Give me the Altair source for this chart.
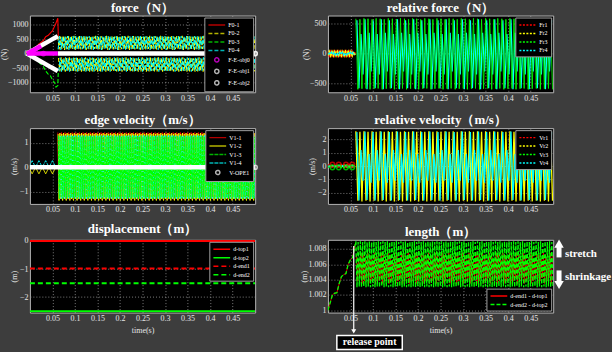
import altair as alt
import pandas as pd

FONT = "Liberation Serif"
BG = "#3d3d3d"
RED, YEL, GRN, CYN, MAG, WHT = "#ff0000", "#ffff00", "#00ff00", "#00ffff", "#ff00ff", "#ffffff"
LINE_SYM = "M -2.4,0 L 2.4,0"
CIRCLE = "M -0.6,0 A 0.6,0.6 0 1,0 0.6,0 A 0.6,0.6 0 1,0 -0.6,0 Z"
SOLID, DASH, DOT = [1, 0], [4, 2], [2, 1.5]

T_REL = 0.062
T_END = 0.5
X_TICKS = [0.05, 0.1, 0.15, 0.2, 0.25, 0.3, 0.35, 0.4, 0.45]

# ---------------- force (N) ----------------
f01_t = [0.010, 0.020, 0.030, 0.035, 0.040, 0.045, 0.050, 0.055, 0.058, 0.062, 0.063]
f01_v = [150, 330, 450, 580, 620, 700, 780, 950, 1050, 1220, 600]
f03_v = [-150, -300, -450, -600, -700, -750, -900, -1000, -1150, -1100, -600]
f02_up = [600, 140, 590, 160, 610, 130, 580, 150]
f02_lo = [-150, -610, -130, -600, -160, -620]
f04_up = [150, 600, 130, 590, 170, 605]
f04_lo = [-600, -140, -620, -160, -590, -130]
obj_t = [-0.0066, 0.062]
obj1_v = [0, 600]
obj2_v = [0, -600]
obj0_a_v = [0, 0]
obj0_b_t = [-0.0066, 0.025]
obj0_b_v = [0, 260]
obj_line_t = [0.062, 0.5]
obj_line_v = [0, 0]

# ---------------- relative force (N) ----------------
fr1_early = [28, -28]
fr2_early = [-28, 28]
fr4_early = [15, -15]
fr3_dense = [585, -600, 575, -590, 590, -585]
fr4_dense = [560, -580, 330, -350, 575, -600, 350, -300]

# ---------------- edge velocity (m/s) ----------------
v14_early = [0.0, 0.27]
v12_early = [0.0, -0.27]
v11_dense = [1.42, -1.33, 1.38, -1.28]
v12_dense = [1.36, -1.36, 1.40, -1.30]
v13_dense = [1.30, -1.30, 1.25, -1.22]
v14_dense = [1.28, -1.25, 1.30, -1.28]
vope_t = [0.0, 0.5]
vope_v = [0.0, 0.0]

# ---------------- relative velocity (m/s) ----------------
vr1_early = [0.08, 0.02]
vr3_early = [-0.08, -0.02]
vr4_early = [0.02, -0.02]
vr_mark_t = [0.010, 0.024, 0.040, 0.054]
vr_mark_up = [0.1, 0.1, 0.1, 0.1]
vr_mark_dn = [-0.1, -0.1, -0.1, -0.1]
vr2_dense = [2.62, -2.62, 2.58, -2.66]
vr4_dense = [2.55, -2.60, 1.20, -1.10, 2.60, -2.55, 0.90, -1.25]

# ---------------- displacement (m) ----------------
d_names = ["d-top1", "d-top2", "d-end1", "d-end2"]
d_levels = [0.0, -2.5, -0.98, -1.51]

# ---------------- length (m) ----------------
len_t = [0.0, 0.004, 0.010, 0.014, 0.020, 0.025, 0.030, 0.034, 0.040, 0.045, 0.050, 0.055, 0.060, 0.062]
len_v = [1.0, 1.0008, 1.0020, 1.0022, 1.0023, 1.0035, 1.0044, 1.0046, 1.0048, 1.0060, 1.0066, 1.0069, 1.0085, 1.0088]
len2_dense = [1.0090, 1.0030, 1.0089, 1.0031]
len1_dense = [1.0072, 1.0038, 1.0066, 1.0042, 1.0075, 1.0035]
len_ticks = [1.0, 1.002, 1.004, 1.006, 1.008]


def seq(series, group, t0, t1, step, pattern, shift=0.0):
    out = []
    i = 0
    while True:
        t = t0 + shift + i * step
        if t > t1 + 1e-9:
            break
        out.append({"t": round(t, 5), "v": pattern[i % len(pattern)], "s": series, "g": group})
        i += 1
    return out


def pts(series, group, ts, vs):
    return [{"t": t, "v": v, "s": series, "g": group} for t, v in zip(ts, vs)]


def make_panel(title, ytitle, title_x, ydom, yticks, yfmt, dom, colors, dashes, layers,
               legend_orient, height, xtitle=None, shapes=None, points=None, extra=()):
    if shapes is None:
        legend = alt.Legend(title=None, orient=legend_orient, symbolType=LINE_SYM)
    else:
        legend = alt.Legend(title=None, orient=legend_orient)
    xs = alt.X("t:Q", scale=alt.Scale(domain=[0, 0.5], nice=False, zero=False),
               axis=alt.Axis(values=X_TICKS, format=".2~f", title=xtitle, tickCount=20))
    ys = alt.Y("v:Q", scale=alt.Scale(domain=ydom, nice=False, zero=False),
               axis=alt.Axis(values=yticks, labelExpr="format(datum.value, '%s')" % yfmt,
                             title=ytitle, titleX=title_x, tickCount=20,
                             titleY=height / 2, titleAngle=270, titleAlign="center",
                             titleBaseline="middle", labelOverlap=False))
    color = alt.Color("s:N", scale=alt.Scale(domain=dom, range=colors), legend=legend)
    dash = alt.StrokeDash("s:N", scale=alt.Scale(domain=dom, range=dashes), legend=legend)
    charts = []
    for rows, width, use_dash, clip in layers:
        enc = dict(x=xs, y=ys, color=color, detail="g:N")
        enc["strokeDash"] = dash if use_dash else alt.value(SOLID)
        charts.append(alt.Chart(pd.DataFrame(rows)).mark_line(strokeWidth=width, clip=clip).encode(**enc))
    if points is not None:
        shp = alt.Shape("s:N", scale=alt.Scale(domain=dom, range=shapes), legend=legend)
        charts.append(alt.Chart(pd.DataFrame(points)).mark_point(filled=False, size=49, strokeWidth=1.5)
                      .encode(x=xs, y=ys, color=color, shape=shp))
    charts.extend(extra)
    return alt.layer(*charts).properties(width=226, height=height, title=title)


# ---- panel 1
p1_thin = (pts("F0-1", "e1", f01_t, f01_v) + pts("F0-3", "e3", f01_t, f03_v)
           + seq("F0-2", "u2", T_REL, T_END, 0.003, f02_up)
           + seq("F0-2", "l2", T_REL, T_END, 0.003, f02_lo, 0.0015)
           + seq("F0-4", "u4", T_REL, T_END, 0.003, f04_up, 0.0007)
           + seq("F0-4", "l4", T_REL, T_END, 0.003, f04_lo, 0.0022))
p1_thick = (pts("F-E-obj1", "a", obj_t, obj1_v) + pts("F-E-obj2", "b", obj_t, obj2_v)
            + pts("F-E-obj2", "c", obj_line_t, obj_line_v)
            + pts("F-E-obj0", "d", obj_t, obj0_a_v) + pts("F-E-obj0", "e", obj0_b_t, obj0_b_v))
p1_pts = pts("F-E-obj0", "p", [0.03], [0]) + pts("F-E-obj1", "p", [0.5], [0]) + pts("F-E-obj2", "p", [0.5], [0])
p1 = make_panel("force（N）", "(N)", -25, [-1330, 1310], [-1000, -500, 0, 500, 1000], "d",
                ["F0-1", "F0-2", "F0-3", "F0-4", "F-E-obj0", "F-E-obj1", "F-E-obj2"],
                [RED, YEL, GRN, CYN, MAG, WHT, WHT],
                [SOLID, DASH, DASH, DASH, SOLID, SOLID, SOLID],
                [(p1_thin, 1.1, True, True), (p1_thick, 4.5, True, False)],
                "top-right", 77,
                shapes=[LINE_SYM] * 4 + [CIRCLE] * 3, points=p1_pts)

# ---- panel 2
p2_early = (seq("Fr1", "e1", 0.0, 0.06, 0.003, fr1_early) + seq("Fr2", "e2", 0.0, 0.06, 0.003, fr2_early)
            + seq("Fr4", "e4", 0.0, 0.06, 0.003, fr4_early, 0.0015))
p2_cyan = seq("Fr4", "d4", T_REL, T_END, 0.0045, fr4_dense, 0.00225)
p2_green = seq("Fr3", "d3", T_REL, T_END, 0.0045, fr3_dense)
p2 = make_panel("relative force（N）", "(N)", -21, [-650, 640], [-500, 0, 500], "d",
                ["Fr1", "Fr2", "Fr3", "Fr4"], [RED, YEL, GRN, CYN], [DOT, DOT, DOT, DOT],
                [(p2_early, 2, True, True), (p2_cyan, 1.3, False, True), (p2_green, 1.0, False, True)],
                "top-right", 77)

# ---- panel 3
p3_under = (seq("V1-4", "e4", -0.0025, 0.062, 0.0075, v14_early)
            + seq("V1-2", "e2", -0.0025, 0.062, 0.0075, v12_early)
            + seq("V1-1", "d1", T_REL, T_END, 0.002, v11_dense)
            + seq("V1-2", "d2", T_REL, T_END, 0.002, v12_dense, 0.0007))
p3_cyan = seq("V1-4", "d4", T_REL, T_END, 0.002, v14_dense, 0.0017)
p3_green = seq("V1-3", "d3", T_REL, T_END, 0.002, v13_dense, 0.001)
p3_thick = pts("V-OPE1", "w", vope_t, vope_v)
p3_pts = pts("V-OPE1", "p", [0.5], [0.0])
p3 = make_panel("edge velocity（m/s）", "(m/s)", -15, [-1.5, 1.6], [-1, 0, 1], "d",
                ["V1-1", "V1-2", "V1-3", "V1-4", "V-OPE1"], [RED, YEL, GRN, CYN, WHT],
                [SOLID, SOLID, [4, 1], [4, 1], SOLID],
                [(p3_under, 0.9, True, True), (p3_cyan, 1.0, True, True), (p3_green, 1.1, True, True),
                 (p3_thick, 4.5, True, False)],
                "top-right", 76, shapes=[LINE_SYM] * 4 + [CIRCLE], points=p3_pts)

# ---- panel 4
p4_early = (seq("Vr1", "e1", 0.0, 0.06, 0.003, vr1_early) + seq("Vr3", "e3", 0.0, 0.06, 0.003, vr3_early)
            + seq("Vr4", "e4", 0.0, 0.06, 0.003, vr4_early, 0.0015))
p4_dense = (seq("Vr2", "d2", T_REL, T_END, 0.0045, vr2_dense)
            + seq("Vr4", "d4", T_REL, T_END, 0.0045, vr4_dense, 0.00225))
p4_marks = [
    alt.Chart(pd.DataFrame({"t": vr_mark_t, "v": vr_mark_up})).mark_point(
        filled=False, size=22, strokeWidth=1.5, color=RED).encode(x="t:Q", y="v:Q"),
    alt.Chart(pd.DataFrame({"t": vr_mark_t, "v": vr_mark_dn})).mark_point(
        filled=False, size=22, strokeWidth=1.5, color=GRN).encode(x="t:Q", y="v:Q"),
]
p4 = make_panel("relative velocity（m/s）", "(m/s)", -15, [-2.85, 2.85], [-2, -1, 0, 1, 2], "d",
                ["Vr1", "Vr2", "Vr3", "Vr4"], [RED, YEL, GRN, CYN], [DOT, DOT, DOT, DOT],
                [(p4_early, 2, True, True), (p4_dense, 1.3, False, True)], "top-right", 76,
                extra=p4_marks)

# ---- panel 5
p5_rows = []
for name, lev in zip(d_names, d_levels):
    p5_rows += pts(name, name, [0.0, 0.5], [lev, lev])
p5 = make_panel("displacement（m）", "(m)", -15, [-2.55, 0.04], [-2, -1, 0], "d",
                d_names, [RED, GRN, RED, GRN], [SOLID, SOLID, [5, 3], [5, 3]],
                [(p5_rows, 2, True, True)], "top-right", 73, xtitle="time(s)")

# ---- panel 6
L1, L2 = "d-end1 - d-top1", "d-end2 - d-top2"
p6_red = pts(L1, "e1", len_t, len_v) + seq(L1, "d1", T_REL, T_END, 0.0025, len1_dense, 0.00125)
p6_green = pts(L2, "e2", len_t, len_v) + seq(L2, "d2", T_REL, T_END, 0.0025, len2_dense)

txt = dict(font=FONT, fontWeight="bold", color=WHT)
ann = [
    alt.Chart(pd.DataFrame({"t": [0.513, 0.513], "v": [1.0069, 1.0052], "v2": [1.0084, 1.0036]}))
    .mark_rule(strokeWidth=5, color=WHT).encode(x="t:Q", y="v:Q", y2="v2:Q"),
    alt.Chart(pd.DataFrame({"t": [0.513], "v": [1.0087]})).mark_point(
        shape="triangle-up", filled=True, size=90, color=WHT, opacity=1).encode(x="t:Q", y="v:Q"),
    alt.Chart(pd.DataFrame({"t": [0.513], "v": [1.0033]})).mark_point(
        shape="triangle-down", filled=True, size=90, color=WHT, opacity=1).encode(x="t:Q", y="v:Q"),
    alt.Chart(pd.DataFrame({"t": [0.526, 0.526], "v": [1.0073, 1.0043], "label": ["stretch", "shrinkage"]}))
    .mark_text(align="left", baseline="middle", fontSize=11, **txt).encode(x="t:Q", y="v:Q", text="label:N"),
    alt.Chart(pd.DataFrame({"t": [0.0573], "v": [1.0084], "v2": [0.99715]}))
    .mark_rule(strokeWidth=1.2, color=WHT).encode(x="t:Q", y="v:Q", y2="v2:Q"),
    alt.Chart(pd.DataFrame({"t": [0.0573], "v": [0.99725]})).mark_point(
        shape="triangle-down", filled=True, size=25, color=WHT, opacity=1).encode(x="t:Q", y="v:Q"),
    alt.Chart(pd.DataFrame({"t": [0.0198], "t2": [0.165], "v": [0.99671], "v2": [0.99489]}))
    .mark_rect(fill="black", stroke=WHT, strokeWidth=1.5).encode(x="t:Q", x2="t2:Q", y="v:Q", y2="v2:Q"),
    alt.Chart(pd.DataFrame({"t": [0.0925], "v": [0.9958], "label": ["release point"]}))
    .mark_text(align="center", baseline="middle", fontSize=10, **txt).encode(x="t:Q", y="v:Q", text="label:N"),
]
p6 = make_panel("length（m）", "(m)", -23, [0.9997, 1.0092], len_ticks, ".3~f",
                [L1, L2], [RED, GRN], [SOLID, DASH],
                [(p6_red, 0.9, True, True), (p6_green, 1.3, True, True)], "bottom-right", 73,
                xtitle="time(s)", extra=ann)

chart = (
    alt.concat(p1, p2, p3, p4, p5, p6, columns=2, spacing={"row": 36, "column": 73},
               bounds="flush", align="each")
    .resolve_scale(color="independent", strokeDash="independent", shape="independent",
                   x="independent", y="independent")
    .resolve_legend(color="independent", strokeDash="independent", shape="independent")
    .properties(padding={"left": 0, "top": 0, "right": 0, "bottom": 0})
    .configure(background=BG)
    .configure_view(fill="black", stroke="#b4b4b4", strokeWidth=1)
    .configure_title(font=FONT, fontSize=13, fontWeight="bold", color=WHT, offset=1, anchor="middle")
    .configure_axis(labelFont=FONT, labelFontSize=8, labelColor="#e6e6e6", titleFont=FONT,
                    titleFontSize=8, titleColor="#e6e6e6", titleFontWeight="normal",
                    domain=False, ticks=False, labelPadding=2, grid=True, gridColor="#9a9a9a",
                    gridDash=[1, 2], gridWidth=0.8)
    .configure_legend(fillColor="black", strokeColor="#a0a0a0", padding=3, rowPadding=0.5,
                      labelFont=FONT, labelFontSize=6, labelColor=WHT, symbolSize=49,
                      symbolStrokeWidth=1.5, symbolOffset=5, labelOffset=7, offset=2, cornerRadius=0)
)

chart.save("out.html", embed_options={"renderer": "svg", "actions": False})
